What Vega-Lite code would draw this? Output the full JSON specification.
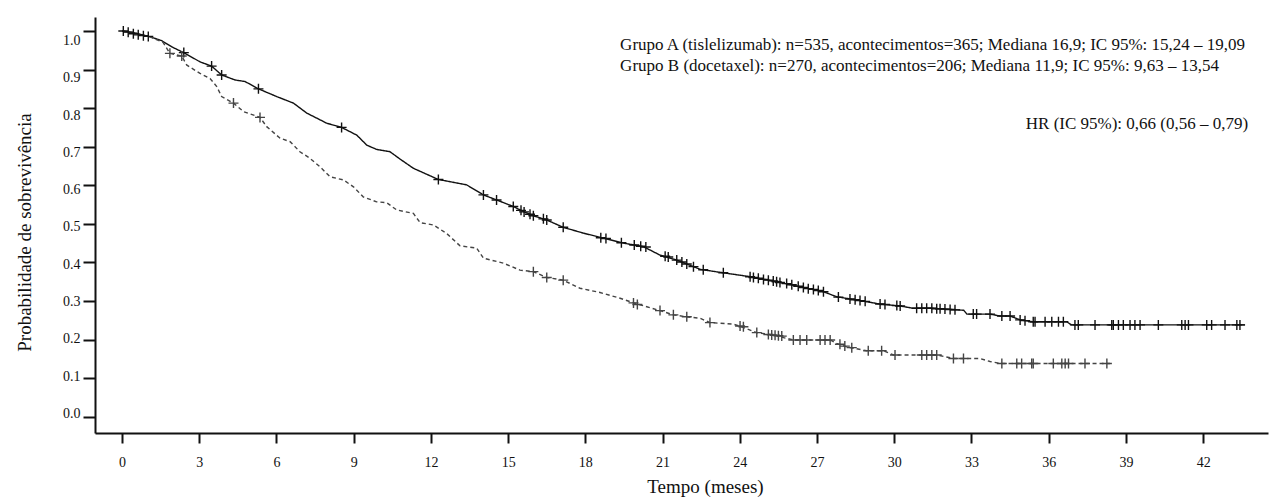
{
  "$schema": "https://vega.github.io/schema/vega-lite/v6.json",
  "width": 1173,
  "height": 416,
  "autosize": {"type": "none"},
  "padding": {"left": 95, "top": 17, "right": 3, "bottom": 66},
  "background": "white",
  "config": {"view": {"stroke": null}, "axis": {"grid": false}},
  "datasets": {
    "curves": [
      {"group": "A", "t": 0, "S": 1.0}, {"group": "A", "t": 0.5, "S": 0.995}, {"group": "A", "t": 1.09, "S": 0.985}, {"group": "A", "t": 1.54, "S": 0.975}, {"group": "A", "t": 1.93, "S": 0.959}, {"group": "A", "t": 2.45, "S": 0.942}, {"group": "A", "t": 3.03, "S": 0.92}, {"group": "A", "t": 3.48, "S": 0.909}, {"group": "A", "t": 3.87, "S": 0.886}, {"group": "A", "t": 4.39, "S": 0.873}, {"group": "A", "t": 4.78, "S": 0.869}, {"group": "A", "t": 5.3, "S": 0.85}, {"group": "A", "t": 6.01, "S": 0.83}, {"group": "A", "t": 6.66, "S": 0.813}, {"group": "A", "t": 7.18, "S": 0.787}, {"group": "A", "t": 7.95, "S": 0.761}, {"group": "A", "t": 8.53, "S": 0.75}, {"group": "A", "t": 9.12, "S": 0.73}, {"group": "A", "t": 9.51, "S": 0.704}, {"group": "A", "t": 9.89, "S": 0.693}, {"group": "A", "t": 10.41, "S": 0.687}, {"group": "A", "t": 10.8, "S": 0.668}, {"group": "A", "t": 11.32, "S": 0.644}, {"group": "A", "t": 12.29, "S": 0.615}, {"group": "A", "t": 13.39, "S": 0.601}, {"group": "A", "t": 14.04, "S": 0.575}, {"group": "A", "t": 14.55, "S": 0.562}, {"group": "A", "t": 15.2, "S": 0.545}, {"group": "A", "t": 15.59, "S": 0.532}, {"group": "A", "t": 15.98, "S": 0.521}, {"group": "A", "t": 16.5, "S": 0.51}, {"group": "A", "t": 17.14, "S": 0.491}, {"group": "A", "t": 17.92, "S": 0.476}, {"group": "A", "t": 18.7, "S": 0.463}, {"group": "A", "t": 19.48, "S": 0.45}, {"group": "A", "t": 20.25, "S": 0.441}, {"group": "A", "t": 20.9, "S": 0.419}, {"group": "A", "t": 21.55, "S": 0.406}, {"group": "A", "t": 22.2, "S": 0.389}, {"group": "A", "t": 22.46, "S": 0.382}, {"group": "A", "t": 23.36, "S": 0.373}, {"group": "A", "t": 24.4, "S": 0.363}, {"group": "A", "t": 25.43, "S": 0.35}, {"group": "A", "t": 26.34, "S": 0.337}, {"group": "A", "t": 27.25, "S": 0.324}, {"group": "A", "t": 27.76, "S": 0.311}, {"group": "A", "t": 28.67, "S": 0.301}, {"group": "A", "t": 29.45, "S": 0.292}, {"group": "A", "t": 30.23, "S": 0.287}, {"group": "A", "t": 30.74, "S": 0.281}, {"group": "A", "t": 31.53, "S": 0.281}, {"group": "A", "t": 32.43, "S": 0.277}, {"group": "A", "t": 32.7, "S": 0.276}, {"group": "A", "t": 32.82, "S": 0.266}, {"group": "A", "t": 33.72, "S": 0.266}, {"group": "A", "t": 34.11, "S": 0.261}, {"group": "A", "t": 34.5, "S": 0.261}, {"group": "A", "t": 34.89, "S": 0.251}, {"group": "A", "t": 35.4, "S": 0.246}, {"group": "A", "t": 36.7, "S": 0.246}, {"group": "A", "t": 36.89, "S": 0.238}, {"group": "A", "t": 43.63, "S": 0.238},
      {"group": "B", "t": 0, "S": 1.0}, {"group": "B", "t": 0.5, "S": 0.995}, {"group": "B", "t": 1.09, "S": 0.985}, {"group": "B", "t": 1.6, "S": 0.97}, {"group": "B", "t": 1.86, "S": 0.942}, {"group": "B", "t": 2.32, "S": 0.935}, {"group": "B", "t": 2.51, "S": 0.912}, {"group": "B", "t": 3.03, "S": 0.89}, {"group": "B", "t": 3.42, "S": 0.877}, {"group": "B", "t": 3.68, "S": 0.856}, {"group": "B", "t": 3.87, "S": 0.83}, {"group": "B", "t": 4.33, "S": 0.813}, {"group": "B", "t": 4.72, "S": 0.791}, {"group": "B", "t": 5.36, "S": 0.776}, {"group": "B", "t": 5.62, "S": 0.752}, {"group": "B", "t": 6.14, "S": 0.722}, {"group": "B", "t": 6.53, "S": 0.713}, {"group": "B", "t": 6.91, "S": 0.687}, {"group": "B", "t": 7.3, "S": 0.67}, {"group": "B", "t": 7.69, "S": 0.648}, {"group": "B", "t": 8.08, "S": 0.622}, {"group": "B", "t": 8.6, "S": 0.614}, {"group": "B", "t": 8.99, "S": 0.596}, {"group": "B", "t": 9.37, "S": 0.57}, {"group": "B", "t": 9.89, "S": 0.557}, {"group": "B", "t": 10.28, "S": 0.555}, {"group": "B", "t": 10.67, "S": 0.536}, {"group": "B", "t": 11.32, "S": 0.527}, {"group": "B", "t": 11.58, "S": 0.503}, {"group": "B", "t": 12.1, "S": 0.497}, {"group": "B", "t": 12.61, "S": 0.475}, {"group": "B", "t": 13.13, "S": 0.443}, {"group": "B", "t": 13.78, "S": 0.437}, {"group": "B", "t": 14.04, "S": 0.411}, {"group": "B", "t": 14.82, "S": 0.398}, {"group": "B", "t": 15.46, "S": 0.38}, {"group": "B", "t": 15.98, "S": 0.376}, {"group": "B", "t": 16.5, "S": 0.361}, {"group": "B", "t": 17.14, "S": 0.354}, {"group": "B", "t": 17.79, "S": 0.333}, {"group": "B", "t": 18.57, "S": 0.322}, {"group": "B", "t": 19.35, "S": 0.307}, {"group": "B", "t": 19.93, "S": 0.294}, {"group": "B", "t": 20.9, "S": 0.275}, {"group": "B", "t": 21.42, "S": 0.264}, {"group": "B", "t": 21.94, "S": 0.259}, {"group": "B", "t": 22.46, "S": 0.255}, {"group": "B", "t": 22.84, "S": 0.244}, {"group": "B", "t": 23.75, "S": 0.24}, {"group": "B", "t": 24.07, "S": 0.233}, {"group": "B", "t": 24.65, "S": 0.218}, {"group": "B", "t": 25.3, "S": 0.212}, {"group": "B", "t": 25.82, "S": 0.203}, {"group": "B", "t": 26.08, "S": 0.199}, {"group": "B", "t": 27.51, "S": 0.199}, {"group": "B", "t": 27.76, "S": 0.19}, {"group": "B", "t": 28.15, "S": 0.181}, {"group": "B", "t": 28.93, "S": 0.171}, {"group": "B", "t": 29.58, "S": 0.171}, {"group": "B", "t": 29.97, "S": 0.16}, {"group": "B", "t": 31.65, "S": 0.16}, {"group": "B", "t": 32.3, "S": 0.151}, {"group": "B", "t": 33.33, "S": 0.151}, {"group": "B", "t": 33.72, "S": 0.143}, {"group": "B", "t": 34.11, "S": 0.138}, {"group": "B", "t": 38.38, "S": 0.138}
    ],
    "censors": [
      {"group": "A", "t": 0.05, "S": 1.0}, {"group": "A", "t": 0.24, "S": 0.997}, {"group": "A", "t": 0.44, "S": 0.993}, {"group": "A", "t": 0.63, "S": 0.99}, {"group": "A", "t": 0.83, "S": 0.988}, {"group": "A", "t": 1.02, "S": 0.986}, {"group": "A", "t": 2.4, "S": 0.944}, {"group": "A", "t": 3.48, "S": 0.909}, {"group": "A", "t": 3.87, "S": 0.886}, {"group": "A", "t": 5.3, "S": 0.85}, {"group": "A", "t": 8.53, "S": 0.75}, {"group": "A", "t": 12.29, "S": 0.615}, {"group": "A", "t": 14.04, "S": 0.575}, {"group": "A", "t": 14.55, "S": 0.562}, {"group": "A", "t": 15.2, "S": 0.545}, {"group": "A", "t": 15.5, "S": 0.535}, {"group": "A", "t": 15.62, "S": 0.531}, {"group": "A", "t": 15.85, "S": 0.525}, {"group": "A", "t": 15.98, "S": 0.521}, {"group": "A", "t": 16.37, "S": 0.513}, {"group": "A", "t": 16.5, "S": 0.51}, {"group": "A", "t": 17.14, "S": 0.491}, {"group": "A", "t": 18.6, "S": 0.464}, {"group": "A", "t": 18.8, "S": 0.462}, {"group": "A", "t": 19.4, "S": 0.451}, {"group": "A", "t": 19.9, "S": 0.445}, {"group": "A", "t": 20.15, "S": 0.442}, {"group": "A", "t": 20.35, "S": 0.44}, {"group": "A", "t": 21.1, "S": 0.416}, {"group": "A", "t": 21.22, "S": 0.414}, {"group": "A", "t": 21.55, "S": 0.406}, {"group": "A", "t": 21.75, "S": 0.401}, {"group": "A", "t": 21.94, "S": 0.396}, {"group": "A", "t": 22.2, "S": 0.389}, {"group": "A", "t": 22.58, "S": 0.381}, {"group": "A", "t": 23.36, "S": 0.373}, {"group": "A", "t": 24.4, "S": 0.363}, {"group": "A", "t": 24.53, "S": 0.361}, {"group": "A", "t": 24.72, "S": 0.359}, {"group": "A", "t": 24.92, "S": 0.356}, {"group": "A", "t": 25.11, "S": 0.354}, {"group": "A", "t": 25.3, "S": 0.352}, {"group": "A", "t": 25.43, "S": 0.35}, {"group": "A", "t": 25.56, "S": 0.348}, {"group": "A", "t": 25.82, "S": 0.345}, {"group": "A", "t": 26.02, "S": 0.342}, {"group": "A", "t": 26.27, "S": 0.338}, {"group": "A", "t": 26.47, "S": 0.335}, {"group": "A", "t": 26.66, "S": 0.332}, {"group": "A", "t": 26.86, "S": 0.33}, {"group": "A", "t": 27.05, "S": 0.327}, {"group": "A", "t": 27.25, "S": 0.324}, {"group": "A", "t": 27.83, "S": 0.31}, {"group": "A", "t": 28.28, "S": 0.305}, {"group": "A", "t": 28.48, "S": 0.303}, {"group": "A", "t": 28.67, "S": 0.301}, {"group": "A", "t": 28.87, "S": 0.299}, {"group": "A", "t": 29.45, "S": 0.292}, {"group": "A", "t": 29.64, "S": 0.291}, {"group": "A", "t": 30.1, "S": 0.288}, {"group": "A", "t": 30.23, "S": 0.287}, {"group": "A", "t": 30.87, "S": 0.281}, {"group": "A", "t": 31.07, "S": 0.281}, {"group": "A", "t": 31.26, "S": 0.281}, {"group": "A", "t": 31.46, "S": 0.281}, {"group": "A", "t": 31.65, "S": 0.28}, {"group": "A", "t": 31.78, "S": 0.28}, {"group": "A", "t": 31.97, "S": 0.279}, {"group": "A", "t": 32.17, "S": 0.278}, {"group": "A", "t": 32.36, "S": 0.277}, {"group": "A", "t": 33.07, "S": 0.266}, {"group": "A", "t": 33.2, "S": 0.266}, {"group": "A", "t": 33.72, "S": 0.266}, {"group": "A", "t": 34.18, "S": 0.261}, {"group": "A", "t": 34.5, "S": 0.261}, {"group": "A", "t": 34.89, "S": 0.251}, {"group": "A", "t": 35.08, "S": 0.249}, {"group": "A", "t": 35.4, "S": 0.246}, {"group": "A", "t": 35.47, "S": 0.246}, {"group": "A", "t": 35.86, "S": 0.246}, {"group": "A", "t": 36.12, "S": 0.246}, {"group": "A", "t": 36.38, "S": 0.246}, {"group": "A", "t": 36.57, "S": 0.246}, {"group": "A", "t": 37.02, "S": 0.238}, {"group": "A", "t": 37.15, "S": 0.238}, {"group": "A", "t": 37.8, "S": 0.238}, {"group": "A", "t": 38.45, "S": 0.238}, {"group": "A", "t": 38.51, "S": 0.238}, {"group": "A", "t": 38.71, "S": 0.238}, {"group": "A", "t": 38.9, "S": 0.238}, {"group": "A", "t": 39.16, "S": 0.238}, {"group": "A", "t": 39.35, "S": 0.238}, {"group": "A", "t": 39.55, "S": 0.238}, {"group": "A", "t": 40.26, "S": 0.238}, {"group": "A", "t": 41.17, "S": 0.238}, {"group": "A", "t": 41.3, "S": 0.238}, {"group": "A", "t": 41.43, "S": 0.238}, {"group": "A", "t": 42.14, "S": 0.238}, {"group": "A", "t": 42.33, "S": 0.238}, {"group": "A", "t": 42.85, "S": 0.238}, {"group": "A", "t": 43.31, "S": 0.238}, {"group": "A", "t": 43.43, "S": 0.238},
      {"group": "B", "t": 1.86, "S": 0.942}, {"group": "B", "t": 2.32, "S": 0.935}, {"group": "B", "t": 4.33, "S": 0.813}, {"group": "B", "t": 5.36, "S": 0.776}, {"group": "B", "t": 15.98, "S": 0.376}, {"group": "B", "t": 16.5, "S": 0.361}, {"group": "B", "t": 17.14, "S": 0.354}, {"group": "B", "t": 19.87, "S": 0.295}, {"group": "B", "t": 20.02, "S": 0.291}, {"group": "B", "t": 20.9, "S": 0.275}, {"group": "B", "t": 21.42, "S": 0.264}, {"group": "B", "t": 21.94, "S": 0.259}, {"group": "B", "t": 22.84, "S": 0.244}, {"group": "B", "t": 24.01, "S": 0.235}, {"group": "B", "t": 24.14, "S": 0.233}, {"group": "B", "t": 24.66, "S": 0.218}, {"group": "B", "t": 25.11, "S": 0.213}, {"group": "B", "t": 25.24, "S": 0.212}, {"group": "B", "t": 25.37, "S": 0.211}, {"group": "B", "t": 25.5, "S": 0.21}, {"group": "B", "t": 25.63, "S": 0.209}, {"group": "B", "t": 26.08, "S": 0.199}, {"group": "B", "t": 26.34, "S": 0.199}, {"group": "B", "t": 26.6, "S": 0.199}, {"group": "B", "t": 27.12, "S": 0.199}, {"group": "B", "t": 27.31, "S": 0.199}, {"group": "B", "t": 27.51, "S": 0.199}, {"group": "B", "t": 27.89, "S": 0.188}, {"group": "B", "t": 28.08, "S": 0.183}, {"group": "B", "t": 28.35, "S": 0.179}, {"group": "B", "t": 28.99, "S": 0.171}, {"group": "B", "t": 29.51, "S": 0.171}, {"group": "B", "t": 30.03, "S": 0.16}, {"group": "B", "t": 31.07, "S": 0.16}, {"group": "B", "t": 31.26, "S": 0.16}, {"group": "B", "t": 31.46, "S": 0.16}, {"group": "B", "t": 31.65, "S": 0.16}, {"group": "B", "t": 32.3, "S": 0.151}, {"group": "B", "t": 32.69, "S": 0.151}, {"group": "B", "t": 34.18, "S": 0.138}, {"group": "B", "t": 34.76, "S": 0.138}, {"group": "B", "t": 34.95, "S": 0.138}, {"group": "B", "t": 35.34, "S": 0.138}, {"group": "B", "t": 35.4, "S": 0.138}, {"group": "B", "t": 36.18, "S": 0.138}, {"group": "B", "t": 36.51, "S": 0.138}, {"group": "B", "t": 36.64, "S": 0.138}, {"group": "B", "t": 36.77, "S": 0.138}, {"group": "B", "t": 37.41, "S": 0.138}, {"group": "B", "t": 38.26, "S": 0.138}
    ]
  },
  "layer": [
    {
      "layer": [
        {
          "data": {"name": "curves"},
          "mark": {"type": "line", "strokeWidth": 1.4, "interpolate": "linear"},
          "encoding": {
            "x": {"field": "t", "type": "quantitative", "scale": {"domain": [-1.05, 44.52], "nice": false, "zero": false},
              "axis": {"orient": "bottom", "values": [0, 3, 6, 9, 12, 15, 18, 21, 24, 27, 30, 33, 36, 39, 42], "tickSize": 10, "tickWidth": 2, "tickColor": "#111111", "domainColor": "#111111", "domainWidth": 2, "labelFont": "Liberation Sans Narrow", "labelFontSize": 14, "labelPadding": 12, "labelBaseline": "top", "labelColor": "#111111", "labelFlush": false, "labelOverlap": false, "title": "Tempo (meses)", "titleFont": "Liberation Serif", "titleFontSize": 19, "titleFontWeight": "normal", "titleColor": "#111111", "titleX": 610, "titleY": 59, "titleAlign": "center", "titleBaseline": "alphabetic", "grid": false}},
            "y": {"field": "S", "type": "quantitative", "scale": {"domain": [-0.0423, 1.0363], "nice": false, "zero": false},
              "axis": {"orient": "left", "values": [0, 0.1, 0.2, 0.3, 0.4, 0.5, 0.6, 0.7, 0.8, 0.9, 1.0], "labels": false, "ticks": true, "tickSize": 12, "tickWidth": 2, "tickColor": "#111111", "domainColor": "#111111", "domainWidth": 2, "title": "Probabilidade de sobrevivência", "titleFont": "Liberation Serif", "titleFontSize": 19, "titleFontWeight": "normal", "titleColor": "#111111", "titleAngle": -90, "titleX": -65, "titleY": 215, "titleAlign": "center", "titleBaseline": "alphabetic", "grid": false}},
            "color": {"field": "group", "type": "nominal", "scale": {"domain": ["A", "B"], "range": ["#111111", "#444444"]}, "legend": null},
            "strokeDash": {"field": "group", "type": "nominal", "scale": {"domain": ["A", "B"], "range": [[1, 0], [4, 3]]}, "legend": null}
          }
        },
        {
          "data": {"name": "censors"},
          "mark": {"type": "point", "shape": "M-1,0L1,0M0,-1L0,1", "filled": false, "size": 100, "strokeWidth": 1.4, "opacity": 1},
          "encoding": {
            "x": {"field": "t", "type": "quantitative"},
            "y": {"field": "S", "type": "quantitative"},
            "color": {"field": "group", "type": "nominal", "scale": {"domain": ["A", "B"], "range": ["#111111", "#444444"]}, "legend": null}
          }
        },
        {
          "data": {"values": [{"label": "Grupo A (tislelizumab): n=535, acontecimentos=365; Mediana 16,9; IC 95%: 15,24 – 19,09"}]},
          "mark": {"type": "text", "align": "left", "baseline": "middle", "font": "Liberation Serif", "fontSize": 17, "color": "#111111"},
          "encoding": {"text": {"field": "label"}, "x": {"datum": 19.35}, "y": {"datum": 0.9637}}
        },
        {
          "data": {"values": [{"label": "Grupo B (docetaxel): n=270, acontecimentos=206; Mediana 11,9; IC 95%: 9,63 – 13,54"}]},
          "mark": {"type": "text", "align": "left", "baseline": "middle", "font": "Liberation Serif", "fontSize": 17, "color": "#111111"},
          "encoding": {"text": {"field": "label"}, "x": {"datum": 19.35}, "y": {"datum": 0.9093}}
        },
        {
          "data": {"values": [{"label": "HR (IC 95%): 0,66 (0,56 – 0,79)"}]},
          "mark": {"type": "text", "align": "right", "baseline": "middle", "font": "Liberation Serif", "fontSize": 17, "color": "#111111"},
          "encoding": {"text": {"field": "label"}, "x": {"datum": 43.75}, "y": {"datum": 0.759}}
        }
      ]
    },
    {
      "data": {"name": "curves"},
      "mark": {"type": "point", "opacity": 0},
      "encoding": {
        "x": {"field": "t", "type": "quantitative"},
        "y": {"field": "S", "type": "quantitative", "scale": {"domain": [-0.0529, 1.0636], "nice": false, "zero": false},
          "axis": {"orient": "left", "values": [0, 0.1, 0.2, 0.3, 0.4, 0.5, 0.6, 0.7, 0.8, 0.9, 1.0], "format": ".1f", "domain": false, "ticks": true, "tickSize": 12, "tickOpacity": 0, "labelPadding": 3, "labelFont": "Liberation Serif", "labelFontSize": 14, "labelColor": "#111111", "labelBaseline": "middle", "labelOverlap": false, "title": null, "grid": false}}
      }
    }
  ],
  "resolve": {"scale": {"y": "independent"}}
}
